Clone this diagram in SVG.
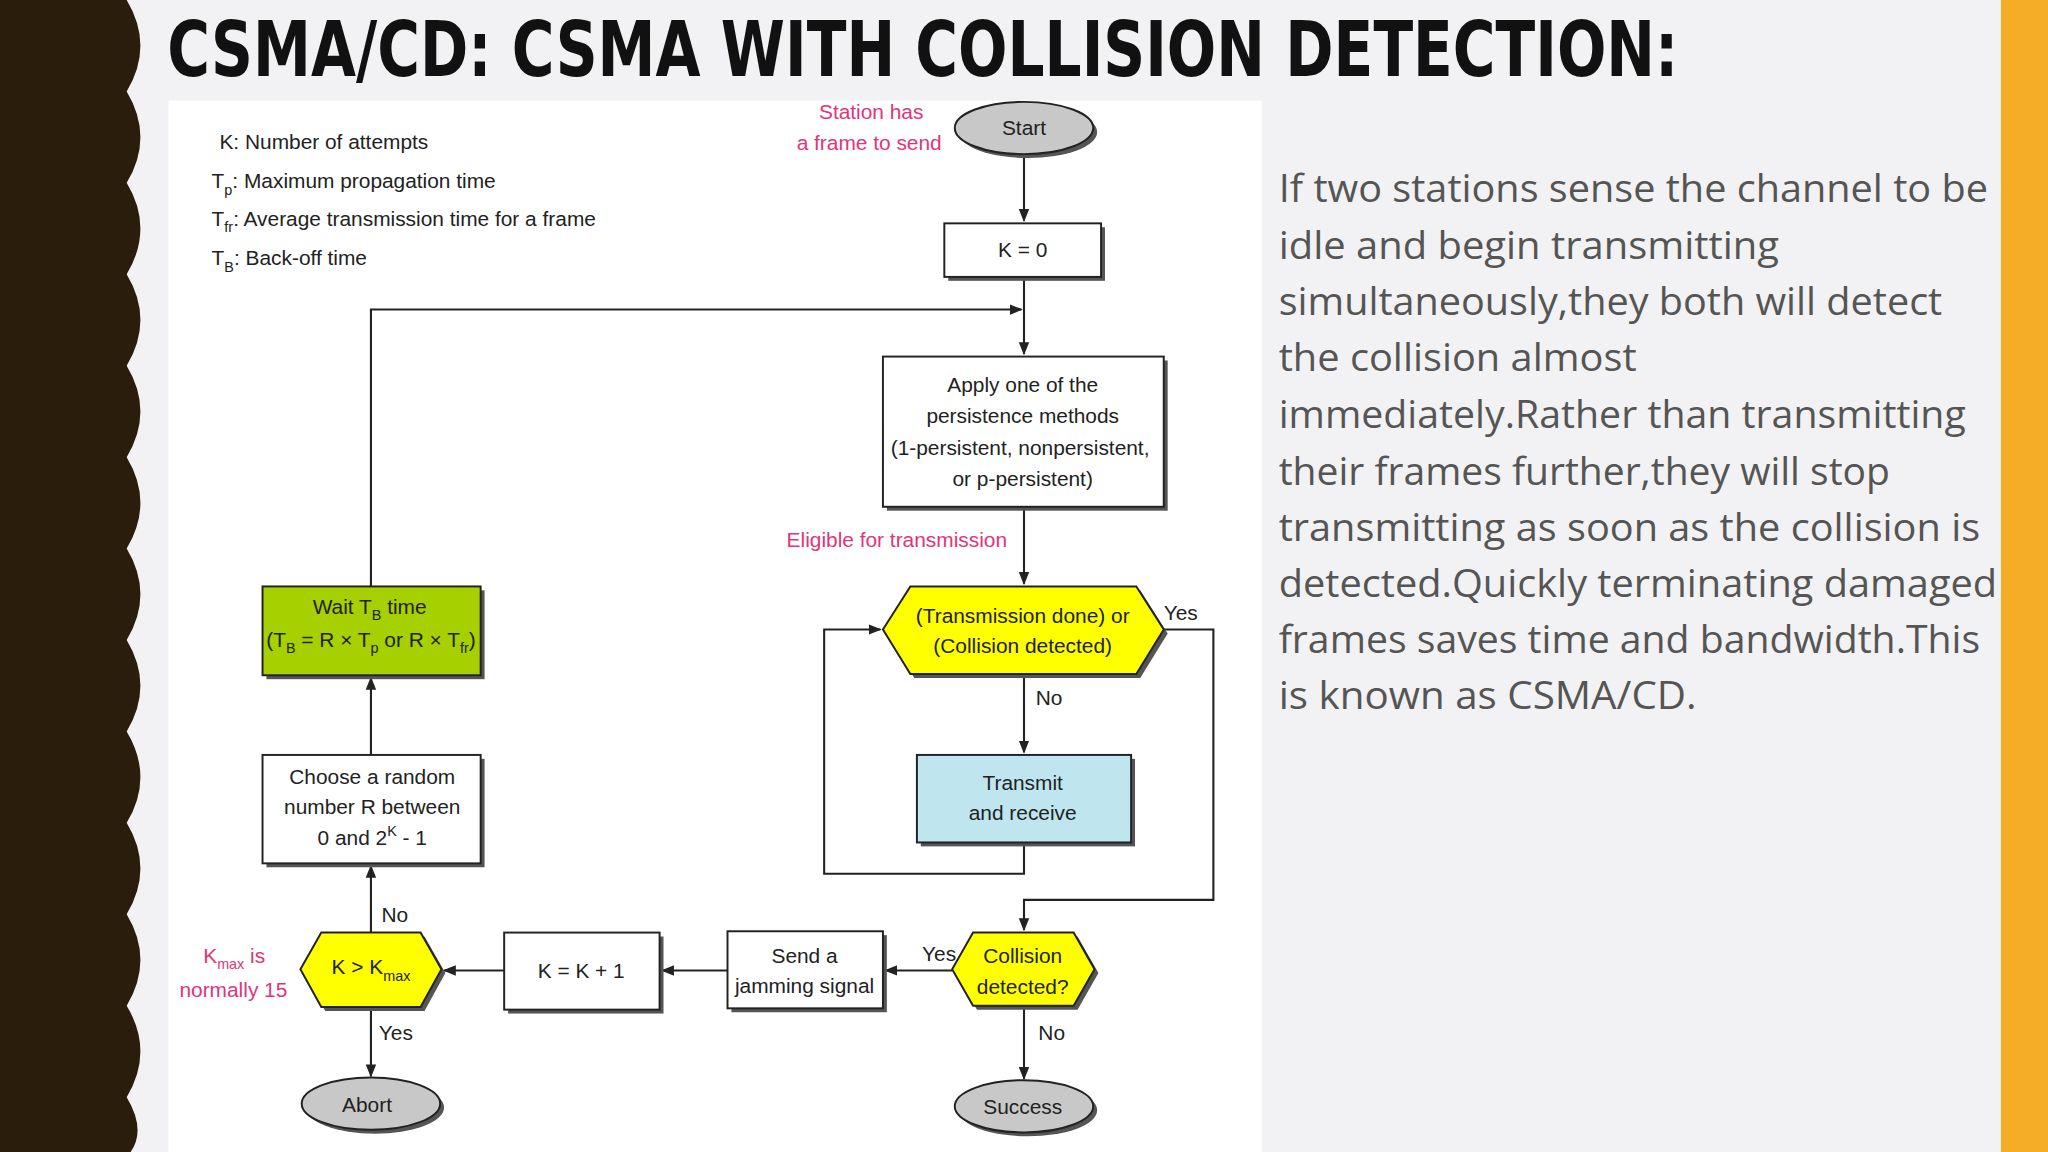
<svg xmlns="http://www.w3.org/2000/svg" width="2048" height="1152" viewBox="0 0 2048 1152">
<style>
.t{font-family:"Liberation Sans",Arial,sans-serif;font-size:16px;fill:#222}
.c{text-anchor:middle}
.pk{font-family:"Liberation Sans",Arial,sans-serif;font-size:16px;fill:#e0357a;text-anchor:end}
.box{fill:#fff;stroke:#222;stroke-width:1.5}
.sh{fill:#555}
.ln{fill:none;stroke:#222;stroke-width:1.6}
.body{font-family:"Open Sans","Noto Sans",sans-serif;font-size:30px;fill:#555}
</style>
<defs>
<marker id="ah" markerWidth="10" markerHeight="10" refX="9" refY="5" orient="auto" markerUnits="userSpaceOnUse"><path d="M0,1 L10,5 L0,9 Z" fill="#222"/></marker>
</defs>
<rect width="2048" height="1152" fill="#f2f2f4"/>
<g transform="scale(1.30612)">
<path d="M0,0 H97 Q118,35 97,70 Q118,105 97,140 Q118,175 97,210 Q118,245 97,280 Q118,315 97,350 Q118,385 97,420 Q118,455 97,490 Q118,525 97,560 Q118,595 97,630 Q118,665 97,700 Q118,735 97,770 Q118,805 97,840 Q112,865 100,882 H0 Z" fill="#2a1d0c"/>
<rect x="1532" y="0" width="36" height="882" fill="#f5ac27"/>
<text x="128" y="58" font-family="'DejaVu Sans Condensed','DejaVu Sans',sans-serif" font-weight="bold" font-size="58" fill="#111" textLength="1157" lengthAdjust="spacingAndGlyphs">CSMA/CD: CSMA WITH COLLISION DETECTION:</text>
<rect x="129" y="77" width="837" height="805" fill="#fff"/>
<g id="legend">
<text class="t" x="168" y="114">K: Number of attempts</text>
<text class="t" x="162" y="144">T<tspan font-size="11" dy="5">p</tspan><tspan dy="-5">: Maximum propagation time</tspan></text>
<text class="t" x="162" y="173">T<tspan font-size="11" dy="5">fr</tspan><tspan dy="-5">: Average transmission time for a frame</tspan></text>
<text class="t" x="162" y="203">T<tspan font-size="11" dy="5">B</tspan><tspan dy="-5">: Back-off time</tspan></text>
</g>
<g id="connectors">
<path class="ln" d="M784,118 V169" marker-end="url(#ah)"/>
<path class="ln" d="M784,212 V271" marker-end="url(#ah)"/>
<path class="ln" d="M284,449 V237 H782" marker-end="url(#ah)"/>
<path class="ln" d="M784,388 V447" marker-end="url(#ah)"/>
<path class="ln" d="M784,516 V576" marker-end="url(#ah)"/>
<path class="ln" d="M784,645 V669 H631 V482 H674" marker-end="url(#ah)"/>
<path class="ln" d="M891,482 H929 V689 H784 V712" marker-end="url(#ah)"/>
<path class="ln" d="M729,743 H678" marker-end="url(#ah)"/>
<path class="ln" d="M557,743 H507" marker-end="url(#ah)"/>
<path class="ln" d="M386,743 H340" marker-end="url(#ah)"/>
<path class="ln" d="M284,714 V663" marker-end="url(#ah)"/>
<path class="ln" d="M284,578 V519" marker-end="url(#ah)"/>
<path class="ln" d="M284,771 V824" marker-end="url(#ah)"/>
<path class="ln" d="M784,770 V826" marker-end="url(#ah)"/>
</g>
<g id="labels">
<text class="pk" x="707" y="91">Station has</text>
<text class="pk" x="721" y="115">a frame to send</text>
<text class="pk" x="771" y="419">Eligible for transmission</text>
<text class="t" x="891" y="475">Yes</text>
<text class="t" x="793" y="540">No</text>
<text class="t" x="706" y="736">Yes</text>
<text class="t" x="292" y="706">No</text>
<text class="t" x="290" y="796">Yes</text>
<text class="t" x="795" y="796">No</text>
<text class="pk" x="203" y="737">K<tspan font-size="11" dy="5">max</tspan><tspan dy="-5"> is</tspan></text>
<text class="pk" x="220" y="763">normally 15</text>
</g>
<g id="start"><ellipse cx="787" cy="101" rx="53" ry="20" class="sh"/><ellipse cx="784" cy="98" rx="53" ry="20" fill="#c8c8c8" stroke="#222" stroke-width="1.5"/><text class="t c" x="784" y="103">Start</text></g>
<g id="k0"><rect x="726" y="174" width="120" height="41" class="sh"/><rect x="723" y="171" width="120" height="41" class="box"/><text class="t c" x="783" y="197">K = 0</text></g>
<g id="apply"><rect x="679" y="276" width="215" height="115" class="sh"/><rect x="676" y="273" width="215" height="115" class="box"/>
<text class="t c" x="783" y="300">Apply one of the</text><text class="t c" x="783" y="324">persistence methods</text><text class="t c" x="781" y="348">(1-persistent, nonpersistent,</text><text class="t c" x="783" y="372">or p-persistent)</text></g>
<g id="check"><polygon points="700,452 873,452 894,485 873,519 700,519 679,485" class="sh"/><polygon points="697,449 870,449 891,482 870,516 697,516 676,482" fill="#ffff00" stroke="#222" stroke-width="1.5"/>
<text class="t c" x="783" y="477">(Transmission done) or</text><text class="t c" x="783" y="500">(Collision detected)</text></g>
<g id="transmit"><rect x="705" y="581" width="164" height="67" class="sh"/><rect x="702" y="578" width="164" height="67" fill="#bfe6ee" stroke="#222" stroke-width="1.5"/>
<text class="t c" x="783" y="605">Transmit</text><text class="t c" x="783" y="628">and receive</text></g>
<g id="collision"><polygon points="748,717 825,717 841,745 825,773 748,773 732,745" class="sh"/><polygon points="745,714 822,714 838,742 822,770 745,770 729,742" fill="#ffff00" stroke="#222" stroke-width="1.5"/>
<text class="t c" x="783" y="737">Collision</text><text class="t c" x="783" y="761">detected?</text></g>
<g id="jam"><rect x="560" y="716" width="119" height="59" class="sh"/><rect x="557" y="713" width="119" height="59" class="box"/>
<text class="t c" x="616" y="737">Send a</text><text class="t c" x="616" y="760">jamming signal</text></g>
<g id="kinc"><rect x="389" y="717" width="119" height="59" class="sh"/><rect x="386" y="714" width="119" height="59" class="box"/><text class="t c" x="445" y="749">K = K + 1</text></g>
<g id="kmax"><polygon points="249,717 325,717 341,745 325,774 249,774 233,745" class="sh"/><polygon points="246,714 322,714 338,742 322,771 246,771 230,742" fill="#ffff00" stroke="#222" stroke-width="1.5"/>
<text class="t c" x="284" y="746">K &gt; K<tspan font-size="11" dy="5">max</tspan></text></g>
<g id="choose"><rect x="204" y="581" width="167" height="83" class="sh"/><rect x="201" y="578" width="167" height="83" class="box"/>
<text class="t c" x="285" y="600">Choose a random</text><text class="t c" x="285" y="623">number R between</text><text class="t c" x="285" y="647">0 and 2<tspan font-size="11" dy="-7">K</tspan><tspan dy="7"> - 1</tspan></text></g>
<g id="wait"><rect x="204" y="452" width="167" height="68" class="sh"/><rect x="201" y="449" width="167" height="68" fill="#a6d000" stroke="#222" stroke-width="1.5"/>
<text class="t c" x="283" y="470">Wait T<tspan font-size="11" dy="5">B</tspan><tspan dy="-5"> time</tspan></text>
<text class="t c" x="284" y="495">(T<tspan font-size="11" dy="5">B</tspan><tspan dy="-5"> = R × T</tspan><tspan font-size="11" dy="5">p</tspan><tspan dy="-5"> or R × T</tspan><tspan font-size="11" dy="5">fr</tspan><tspan dy="-5">)</tspan></text></g>
<g id="abort"><ellipse cx="287" cy="848" rx="53" ry="20" class="sh"/><ellipse cx="284" cy="845" rx="53" ry="20" fill="#c8c8c8" stroke="#222" stroke-width="1.5"/><text class="t c" x="281" y="851">Abort</text></g>
<g id="success"><ellipse cx="787" cy="850" rx="53" ry="20" class="sh"/><ellipse cx="784" cy="847" rx="53" ry="20" fill="#c8c8c8" stroke="#222" stroke-width="1.5"/><text class="t c" x="783" y="853">Success</text></g>
<g id="body">
<text class="body" x="979" y="155" textLength="543" lengthAdjust="spacingAndGlyphs">If two stations sense the channel to be</text>
<text class="body" x="979" y="198" textLength="383" lengthAdjust="spacingAndGlyphs">idle and begin transmitting</text>
<text class="body" x="979" y="241" textLength="508" lengthAdjust="spacingAndGlyphs">simultaneously,they both will detect</text>
<text class="body" x="979" y="284" textLength="274" lengthAdjust="spacingAndGlyphs">the collision almost</text>
<text class="body" x="979" y="328" textLength="526" lengthAdjust="spacingAndGlyphs">immediately.Rather than transmitting</text>
<text class="body" x="979" y="371" textLength="468" lengthAdjust="spacingAndGlyphs">their frames further,they will stop</text>
<text class="body" x="979" y="414" textLength="537" lengthAdjust="spacingAndGlyphs">transmitting as soon as the collision is</text>
<text class="body" x="979" y="457" textLength="550" lengthAdjust="spacingAndGlyphs">detected.Quickly terminating damaged</text>
<text class="body" x="979" y="500" textLength="537" lengthAdjust="spacingAndGlyphs">frames saves time and bandwidth.This</text>
<text class="body" x="979" y="543" textLength="320" lengthAdjust="spacingAndGlyphs">is known as CSMA/CD.</text>
</g>
</g>
</svg>
